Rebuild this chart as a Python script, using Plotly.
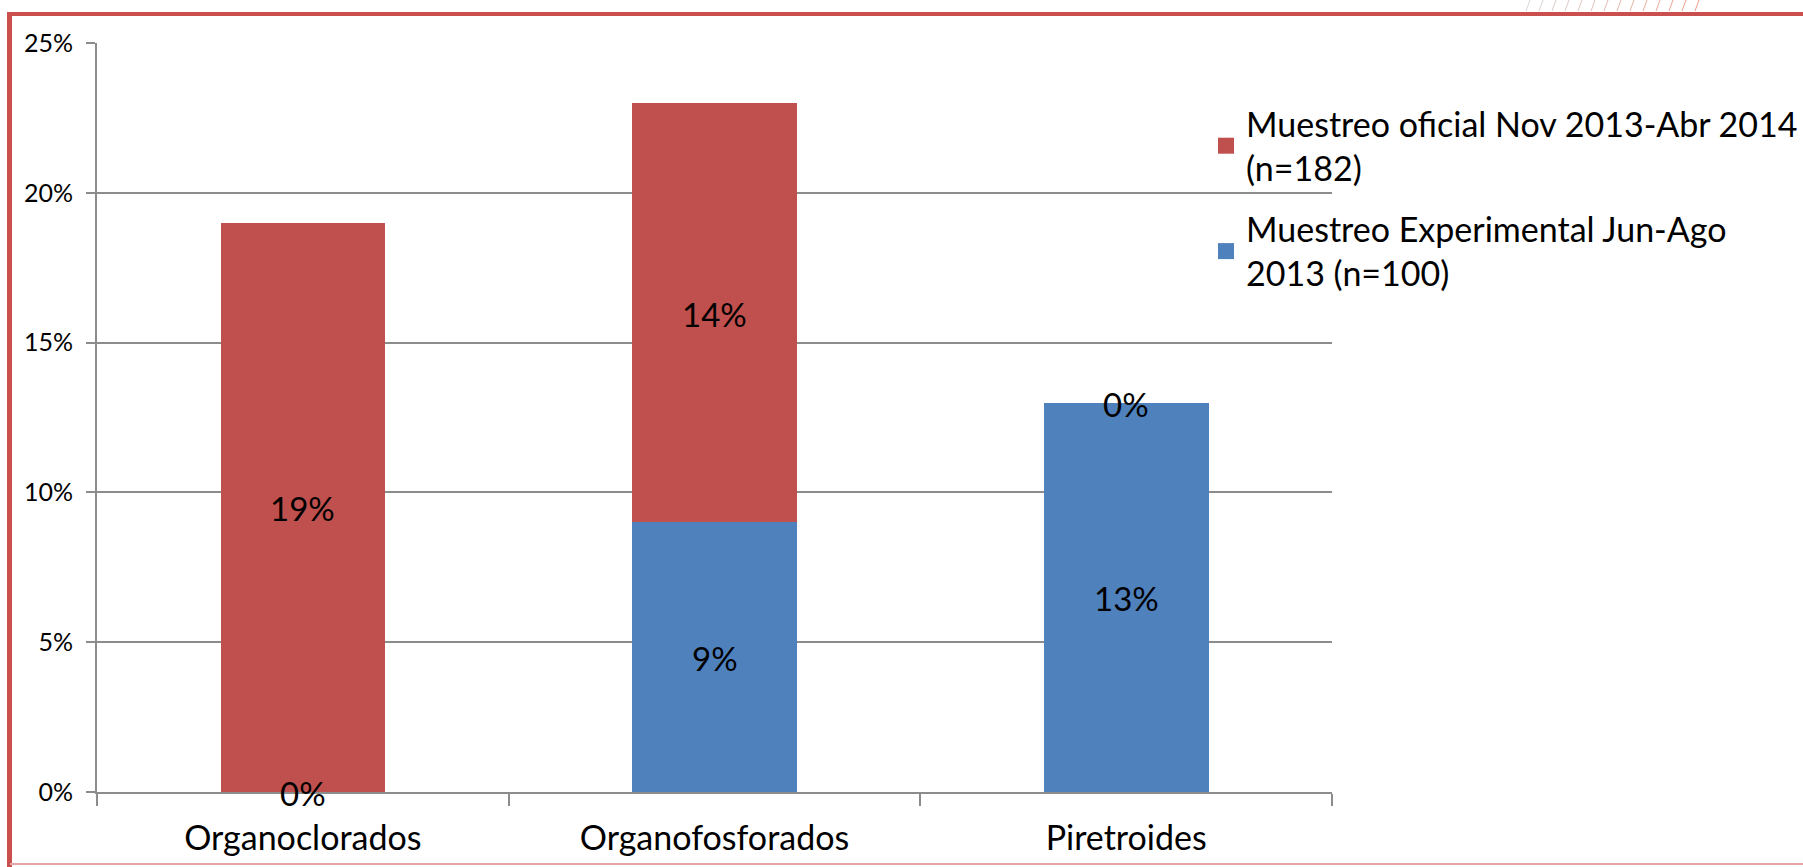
import plotly.graph_objects as go

categories = ["Organoclorados", "Organofosforados", "Piretroides"]
experimental = [0, 9, 13]   # Jun-Ago 2013, stacked at the bottom
oficial = [19, 14, 0]       # Nov 2013-Abr 2014, stacked on top
y_ticks = [0, 5, 10, 15, 20, 25]
y_tick_labels = ["0%", "5%", "10%", "15%", "20%", "25%"]
name_exp = "Muestreo Experimental Jun-Ago<br>2013 (n=100)"
name_of = "Muestreo oficial Nov 2013-Abr 2014<br>(n=182)"

RED = "#C0504D"
BLUE = "#4F81BD"
GRID = "#8C8C8C"
FONT = "Lato, sans-serif"

W, H = 1803, 867
L, R, T, B = 97, 1332, 43, 792  # plot area in page pixels


def px(x):
    return (x - L) / (R - L)


def py(y):
    return (B - y) / (B - T)


fig = go.Figure()
fig.add_trace(go.Bar(x=categories, y=experimental, name=name_exp, marker_color=BLUE,
                     marker_line_width=0, showlegend=False))
fig.add_trace(go.Bar(x=categories, y=oficial, name=name_of, marker_color=RED,
                     marker_line_width=0, showlegend=False))

# legend entries with larger square swatches
fig.add_trace(go.Scatter(x=[None], y=[None], mode="markers", name=name_of, legendrank=1,
                         legendgroup="of", marker=dict(symbol="square", size=20, color=RED)))
fig.add_trace(go.Scatter(x=[None], y=[None], mode="markers", name=name_exp, legendrank=2,
                         legendgroup="exp", marker=dict(symbol="square", size=20, color=BLUE)))

# data labels centred on each segment
annotations = []
for cat, e, o in zip(categories, experimental, oficial):
    for mid, v in ((e / 2, e), (e + o / 2, o)):
        annotations.append(dict(x=cat, y=mid, text=f"{v}%", showarrow=False, yshift=-1,
                                font=dict(size=33, color="black", family=FONT)))

shapes = []
# red frame of the slide
shapes.append(dict(type="line", xref="paper", yref="paper", x0=px(9.5), x1=px(9.5),
                   y0=py(12), y1=py(870), line=dict(color="#C9504F", width=5)))
shapes.append(dict(type="line", xref="paper", yref="paper", x0=px(7), x1=px(1810),
                   y0=py(14), y1=py(14), line=dict(color="#C9504F", width=4)))
shapes.append(dict(type="line", xref="paper", yref="paper", x0=px(10), x1=px(1810),
                   y0=py(864), y1=py(864), line=dict(color="#E3A5A5", width=2)))
# faint hatching above the frame at top right
for i in range(14):
    x0 = 1526 + i * 13
    t = i / 13
    c = "rgb(%d,%d,%d)" % (215 + 25 * t, 215 - 60 * t, 215 - 80 * t)
    shapes.append(dict(type="line", xref="paper", yref="paper", x0=px(x0), x1=px(x0 + 4),
                       y0=py(11), y1=py(0), line=dict(color=c, width=1)))

fig.update_layout(
    barmode="stack",
    bargap=0.6,
    width=W, height=H,
    margin=dict(l=L, r=W - R, t=T, b=H - B, autoexpand=False),
    plot_bgcolor="white",
    paper_bgcolor="white",
    font=dict(family=FONT, color="black"),
    shapes=shapes,
    annotations=annotations,
    legend=dict(x=px(1206), y=py(95), xanchor="left", yanchor="top",
                traceorder="grouped", tracegroupgap=14, itemsizing="trace",
                font=dict(size=34, family=FONT, color="black"),
                bgcolor="rgba(0,0,0,0)"),
)
fig.update_xaxes(showline=True, linecolor=GRID, linewidth=2, showgrid=False,
                 ticks="outside", tickson="boundaries", ticklen=12, tickwidth=2,
                 tickcolor=GRID, ticklabelstandoff=15,
                 tickfont=dict(size=34, family=FONT, color="black"))
fig.update_yaxes(range=[0, 25], tickvals=y_ticks, ticktext=y_tick_labels,
                 showgrid=True, gridcolor=GRID, gridwidth=2, zeroline=False,
                 showline=True, linecolor=GRID, linewidth=2,
                 ticks="outside", ticklen=9, tickwidth=2, tickcolor=GRID,
                 ticklabelstandoff=8,
                 tickfont=dict(size=25, family=FONT, color="black"))

fig.write_html("out.html", config={"displayModeBar": False},
               post_script="document.body.style.margin='0';")
